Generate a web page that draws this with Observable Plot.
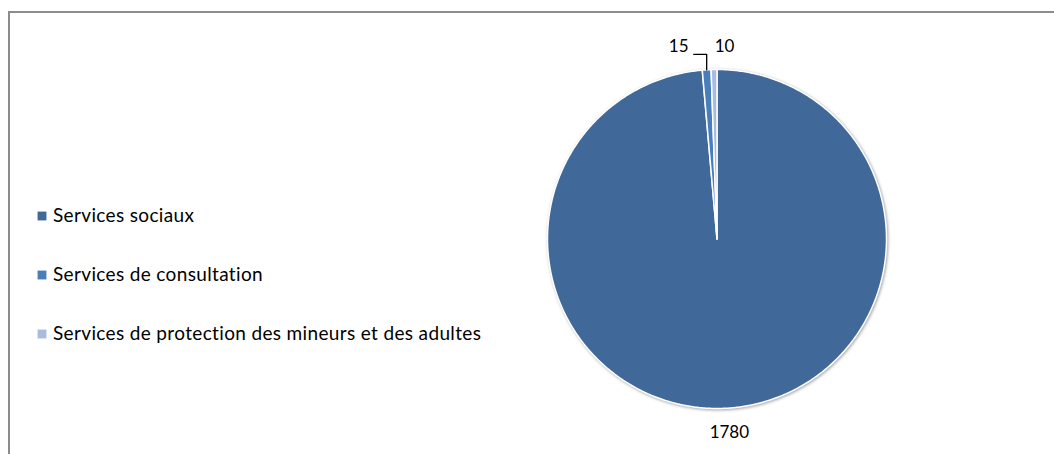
<!DOCTYPE html>
<html><head><meta charset="utf-8">
<script src="https://cdn.jsdelivr.net/npm/d3@7"></script>
<script src="https://cdn.jsdelivr.net/npm/@observablehq/plot@0.6"></script>
<style>
body{margin:0;background:#fff;}
#wrap{position:relative;width:1054px;height:454px;overflow:hidden;}
#frame{position:absolute;left:8px;top:11px;width:1100px;height:500px;border-left:2px solid #8c8c8c;border-top:2px solid #8c8c8c;pointer-events:none;}
</style></head><body><div id="wrap"><div id="frame"></div></div>
<script>
// ---- data ----
const categories = ["Services sociaux", "Services de consultation", "Services de protection des mineurs et des adultes"];
const values = [1780, 15, 10];
const colors = ["#40699A", "#4A7EBB", "#A9BCDB"];

// ---- layout ----
const W = 1054, H = 454, CX = 716.5, CY = 238.5, R = 169.5;
const FONT = "Lato, 'Open Sans', sans-serif";
const px = (x) => (x - CX) / R;          // pixel -> data units
const py = (y) => (CY - y) / R;
// label offsets (pixels) relative to slice edge point at mid-angle
const labelOffsets = [[5, 24], [-28, -23], [10.5, -23]];

const pie = d3.pie().sort(null).startAngle(0).endAngle(2 * Math.PI)(values);

const slicePts = [];
pie.forEach((a, i) => {
  const n = Math.max(2, Math.ceil((a.endAngle - a.startAngle) / (Math.PI / 360)));
  slicePts.push({cat: categories[i], x: 0, y: 0});
  for (let k = 0; k <= n; k++) {
    const t = a.startAngle + (a.endAngle - a.startAngle) * k / n;
    slicePts.push({cat: categories[i], x: Math.sin(t), y: Math.cos(t)});
  }
  slicePts.push({cat: categories[i], x: 0, y: 0});
});

const labels = pie.map((a, i) => {
  const m = (a.startAngle + a.endAngle) / 2;
  const ex = Math.sin(m), ey = Math.cos(m);
  return {text: String(values[i]), ex, ey,
          x: ex + labelOffsets[i][0] / R, y: ey - labelOffsets[i][1] / R};
});

// leader line for the "15" label
const L = labels[1];
const leader = [
  {x: L.ex, y: L.ey},
  {x: L.ex, y: L.y - 7.5 / R},
  {x: L.x + 15 / R, y: L.y - 7.5 / R}
];

const legendRows = categories.map((c, i) => ({cat: c, x: px(41.5), tx: px(52.5), y: py(215.5 + i * 59)}));

const chart = Plot.plot({
  width: W, height: H,
  margin: 0,
  x: {domain: [px(0), px(W)], range: [0, W], axis: null},
  y: {domain: [py(H), py(0)], range: [H, 0], axis: null},
  color: {domain: categories, range: colors},
  style: {fontFamily: FONT, background: "transparent"},
  marks: [
    Plot.line(slicePts, {x: "x", y: "y", z: "cat", fill: "cat", stroke: "white", strokeWidth: 1.5, curve: "linear", strokeLinejoin: "round"}),
    Plot.line(leader, {x: "x", y: "y", stroke: "black", strokeWidth: 1.3}),
    Plot.text(labels, {x: "x", y: "y", text: "text", fontSize: 17, fill: "black", fontFamily: FONT}),
    Plot.dot(legendRows, {x: "x", y: "y", symbol: "square", r: 5, fill: "cat", stroke: null}),
    Plot.text(legendRows, {x: "tx", y: "y", text: "cat", textAnchor: "start", fontSize: 19, fill: "black", fontFamily: FONT})
  ]
});
const g = chart.querySelector('g[aria-label="line"]');
if (g) g.style.filter = "drop-shadow(1.5px 1.5px 1.5px rgba(0,0,0,0.35))";
const texts = chart.querySelectorAll('g[aria-label="text"]');
if (texts[1]) texts[1].setAttribute("letter-spacing", "0.35");
chart.style.position = "absolute";
chart.style.left = "0px";
chart.style.top = "0px";
document.getElementById("wrap").prepend(chart);
</script>
</body></html>
